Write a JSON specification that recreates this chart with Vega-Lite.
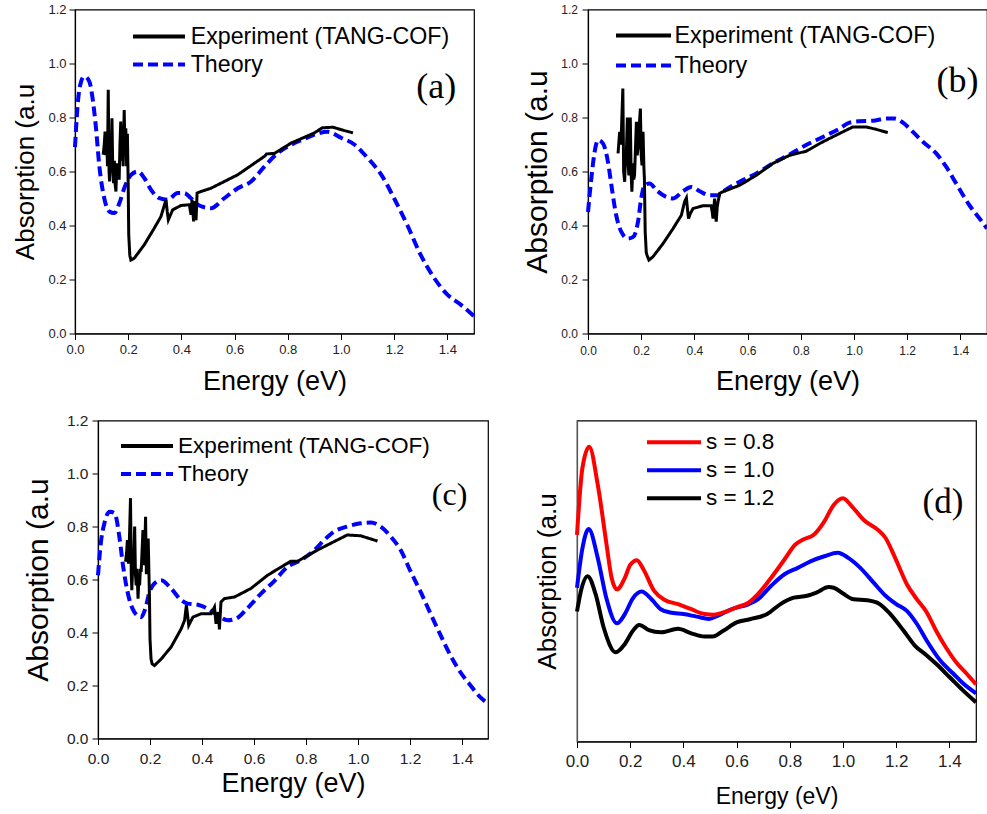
{
  "$schema": "https://vega.github.io/schema/vega-lite/v6.json",
  "background": "white",
  "padding": {"left": -27, "top": 2.5, "right": 0, "bottom": 0},
  "datasets": {
    "a_th": [
      {"E":0,"A":0.69},{"E":0.01,"A":0.847},{"E":0.023,"A":0.933},{"E":0.035,"A":0.952},{"E":0.054,"A":0.933},{"E":0.066,"A":0.872},{"E":0.079,"A":0.76},{"E":0.091,"A":0.625},{"E":0.11,"A":0.501},{"E":0.129,"A":0.452},{"E":0.148,"A":0.446},{"E":0.167,"A":0.483},{"E":0.185,"A":0.538},{"E":0.211,"A":0.588},{"E":0.236,"A":0.6},{"E":0.261,"A":0.575},{"E":0.286,"A":0.532},{"E":0.317,"A":0.501},{"E":0.348,"A":0.495},{"E":0.386,"A":0.52},{"E":0.411,"A":0.52},{"E":0.436,"A":0.501},{"E":0.467,"A":0.474},{"E":0.511,"A":0.464},{"E":0.561,"A":0.501},{"E":0.612,"A":0.538},{"E":0.662,"A":0.563},{"E":0.712,"A":0.618},{"E":0.762,"A":0.668},{"E":0.812,"A":0.699},{"E":0.86,"A":0.72},{"E":0.9,"A":0.737},{"E":0.95,"A":0.747},{"E":1.0,"A":0.725},{"E":1.05,"A":0.7},{"E":1.1,"A":0.65},{"E":1.15,"A":0.59},{"E":1.2,"A":0.5},{"E":1.25,"A":0.4},{"E":1.3,"A":0.29},{"E":1.35,"A":0.206},{"E":1.4,"A":0.144},{"E":1.45,"A":0.107},{"E":1.5,"A":0.064}
    ],
    "a_ex": [
      {"E":0.106,"A":0.662},{"E":0.11,"A":0.7},{"E":0.113,"A":0.748},{"E":0.116,"A":0.66},{"E":0.119,"A":0.74},{"E":0.122,"A":0.62},{"E":0.125,"A":0.903},{"E":0.128,"A":0.6},{"E":0.13,"A":0.563},{"E":0.133,"A":0.7},{"E":0.136,"A":0.62},{"E":0.139,"A":0.797},{"E":0.142,"A":0.6},{"E":0.145,"A":0.557},{"E":0.148,"A":0.64},{"E":0.151,"A":0.55},{"E":0.154,"A":0.526},{"E":0.157,"A":0.63},{"E":0.16,"A":0.58},{"E":0.163,"A":0.612},{"E":0.166,"A":0.57},{"E":0.169,"A":0.7},{"E":0.172,"A":0.785},{"E":0.175,"A":0.64},{"E":0.178,"A":0.73},{"E":0.181,"A":0.62},{"E":0.185,"A":0.828},{"E":0.188,"A":0.66},{"E":0.191,"A":0.76},{"E":0.194,"A":0.62},{"E":0.197,"A":0.74},{"E":0.2,"A":0.55},{"E":0.202,"A":0.366},{"E":0.206,"A":0.29},{"E":0.21,"A":0.272},{"E":0.223,"A":0.279},{"E":0.26,"A":0.328},{"E":0.298,"A":0.39},{"E":0.323,"A":0.433},{"E":0.342,"A":0.495},{"E":0.347,"A":0.45},{"E":0.351,"A":0.421},{"E":0.367,"A":0.458},{"E":0.398,"A":0.474},{"E":0.43,"A":0.477},{"E":0.436,"A":0.44},{"E":0.44,"A":0.495},{"E":0.446,"A":0.415},{"E":0.451,"A":0.49},{"E":0.455,"A":0.42},{"E":0.459,"A":0.52},{"E":0.474,"A":0.526},{"E":0.511,"A":0.538},{"E":0.612,"A":0.588},{"E":0.712,"A":0.656},{"E":0.72,"A":0.665},{"E":0.75,"A":0.667},{"E":0.812,"A":0.705},{"E":0.9,"A":0.743},{"E":0.93,"A":0.762},{"E":0.97,"A":0.764},{"E":1.0,"A":0.755},{"E":1.045,"A":0.743}
    ],
    "b_th": [
      {"E":0,"A":0.45},{"E":0.0125,"A":0.574},{"E":0.025,"A":0.673},{"E":0.038,"A":0.716},{"E":0.056,"A":0.704},{"E":0.075,"A":0.636},{"E":0.088,"A":0.549},{"E":0.106,"A":0.438},{"E":0.125,"A":0.377},{"E":0.15,"A":0.352},{"E":0.17,"A":0.358},{"E":0.188,"A":0.414},{"E":0.2,"A":0.5},{"E":0.213,"A":0.549},{"E":0.232,"A":0.556},{"E":0.257,"A":0.531},{"E":0.294,"A":0.506},{"E":0.32,"A":0.5},{"E":0.357,"A":0.527},{"E":0.388,"A":0.543},{"E":0.42,"A":0.527},{"E":0.457,"A":0.512},{"E":0.489,"A":0.512},{"E":0.507,"A":0.525},{"E":0.57,"A":0.562},{"E":0.633,"A":0.593},{"E":0.695,"A":0.63},{"E":0.758,"A":0.663},{"E":0.82,"A":0.698},{"E":0.883,"A":0.728},{"E":0.946,"A":0.759},{"E":0.983,"A":0.781},{"E":1.02,"A":0.786},{"E":1.071,"A":0.788},{"E":1.121,"A":0.796},{"E":1.152,"A":0.796},{"E":1.184,"A":0.781},{"E":1.221,"A":0.747},{"E":1.259,"A":0.71},{"E":1.309,"A":0.667},{"E":1.347,"A":0.617},{"E":1.384,"A":0.556},{"E":1.434,"A":0.475},{"E":1.472,"A":0.426},{"E":1.5,"A":0.389}
    ],
    "b_ex": [
      {"E":0.113,"A":0.667},{"E":0.117,"A":0.72},{"E":0.119,"A":0.747},{"E":0.123,"A":0.7},{"E":0.126,"A":0.76},{"E":0.131,"A":0.907},{"E":0.134,"A":0.6},{"E":0.138,"A":0.562},{"E":0.141,"A":0.68},{"E":0.144,"A":0.66},{"E":0.148,"A":0.8},{"E":0.151,"A":0.62},{"E":0.154,"A":0.586},{"E":0.157,"A":0.72},{"E":0.159,"A":0.8},{"E":0.162,"A":0.6},{"E":0.165,"A":0.525},{"E":0.169,"A":0.63},{"E":0.172,"A":0.57},{"E":0.175,"A":0.586},{"E":0.179,"A":0.7},{"E":0.182,"A":0.784},{"E":0.185,"A":0.66},{"E":0.188,"A":0.685},{"E":0.192,"A":0.76},{"E":0.197,"A":0.833},{"E":0.2,"A":0.66},{"E":0.203,"A":0.623},{"E":0.207,"A":0.747},{"E":0.21,"A":0.62},{"E":0.212,"A":0.574},{"E":0.215,"A":0.377},{"E":0.219,"A":0.3},{"E":0.222,"A":0.29},{"E":0.229,"A":0.272},{"E":0.244,"A":0.284},{"E":0.282,"A":0.333},{"E":0.32,"A":0.389},{"E":0.351,"A":0.438},{"E":0.363,"A":0.488},{"E":0.37,"A":0.502},{"E":0.374,"A":0.46},{"E":0.378,"A":0.426},{"E":0.385,"A":0.445},{"E":0.395,"A":0.463},{"E":0.432,"A":0.473},{"E":0.463,"A":0.473},{"E":0.467,"A":0.45},{"E":0.47,"A":0.426},{"E":0.476,"A":0.5},{"E":0.48,"A":0.44},{"E":0.482,"A":0.414},{"E":0.486,"A":0.47},{"E":0.489,"A":0.488},{"E":0.495,"A":0.519},{"E":0.507,"A":0.525},{"E":0.57,"A":0.549},{"E":0.633,"A":0.586},{"E":0.695,"A":0.63},{"E":0.758,"A":0.66},{"E":0.82,"A":0.675},{"E":0.883,"A":0.71},{"E":0.946,"A":0.741},{"E":0.996,"A":0.765},{"E":1.046,"A":0.765},{"E":1.084,"A":0.756},{"E":1.127,"A":0.744}
    ],
    "c_th": [
      {"E":0,"A":0.616},{"E":0.01,"A":0.73},{"E":0.026,"A":0.818},{"E":0.045,"A":0.856},{"E":0.064,"A":0.85},{"E":0.083,"A":0.755},{"E":0.096,"A":0.654},{"E":0.115,"A":0.547},{"E":0.14,"A":0.477},{"E":0.166,"A":0.458},{"E":0.182,"A":0.49},{"E":0.198,"A":0.553},{"E":0.217,"A":0.585},{"E":0.243,"A":0.597},{"E":0.281,"A":0.566},{"E":0.32,"A":0.522},{"E":0.345,"A":0.509},{"E":0.384,"A":0.505},{"E":0.422,"A":0.49},{"E":0.46,"A":0.465},{"E":0.499,"A":0.446},{"E":0.531,"A":0.452},{"E":0.576,"A":0.493},{"E":0.627,"A":0.547},{"E":0.678,"A":0.594},{"E":0.729,"A":0.648},{"E":0.78,"A":0.673},{"E":0.832,"A":0.711},{"E":0.87,"A":0.749},{"E":0.908,"A":0.781},{"E":0.959,"A":0.8},{"E":1.01,"A":0.812},{"E":1.049,"A":0.815},{"E":1.087,"A":0.8},{"E":1.126,"A":0.762},{"E":1.164,"A":0.711},{"E":1.203,"A":0.629},{"E":1.241,"A":0.553},{"E":1.279,"A":0.471},{"E":1.318,"A":0.389},{"E":1.356,"A":0.313},{"E":1.394,"A":0.25},{"E":1.433,"A":0.2},{"E":1.471,"A":0.155},{"E":1.5,"A":0.132}
    ],
    "c_ex": [
      {"E":0.106,"A":0.667},{"E":0.11,"A":0.7},{"E":0.113,"A":0.749},{"E":0.117,"A":0.66},{"E":0.12,"A":0.72},{"E":0.125,"A":0.907},{"E":0.128,"A":0.62},{"E":0.13,"A":0.56},{"E":0.134,"A":0.66},{"E":0.137,"A":0.654},{"E":0.141,"A":0.8},{"E":0.144,"A":0.62},{"E":0.147,"A":0.578},{"E":0.15,"A":0.64},{"E":0.154,"A":0.528},{"E":0.157,"A":0.6},{"E":0.16,"A":0.578},{"E":0.163,"A":0.64},{"E":0.166,"A":0.629},{"E":0.17,"A":0.72},{"E":0.173,"A":0.787},{"E":0.177,"A":0.654},{"E":0.18,"A":0.72},{"E":0.183,"A":0.837},{"E":0.186,"A":0.62},{"E":0.188,"A":0.654},{"E":0.191,"A":0.74},{"E":0.193,"A":0.755},{"E":0.196,"A":0.62},{"E":0.198,"A":0.528},{"E":0.2,"A":0.376},{"E":0.204,"A":0.3},{"E":0.208,"A":0.282},{"E":0.217,"A":0.275},{"E":0.243,"A":0.3},{"E":0.281,"A":0.345},{"E":0.32,"A":0.414},{"E":0.333,"A":0.446},{"E":0.34,"A":0.503},{"E":0.344,"A":0.47},{"E":0.349,"A":0.427},{"E":0.365,"A":0.458},{"E":0.397,"A":0.471},{"E":0.435,"A":0.471},{"E":0.448,"A":0.496},{"E":0.454,"A":0.433},{"E":0.458,"A":0.46},{"E":0.463,"A":0.477},{"E":0.467,"A":0.412},{"E":0.473,"A":0.515},{"E":0.486,"A":0.528},{"E":0.525,"A":0.534},{"E":0.588,"A":0.566},{"E":0.652,"A":0.616},{"E":0.716,"A":0.654},{"E":0.742,"A":0.669},{"E":0.768,"A":0.669},{"E":0.844,"A":0.711},{"E":0.908,"A":0.743},{"E":0.959,"A":0.768},{"E":1.01,"A":0.765},{"E":1.075,"A":0.745}
    ],
    "d_08": [
      {"E":0,"A":0.644},{"E":0.02,"A":0.85},{"E":0.046,"A":0.918},{"E":0.078,"A":0.8},{"E":0.11,"A":0.62},{"E":0.13,"A":0.51},{"E":0.15,"A":0.474},{"E":0.18,"A":0.51},{"E":0.2,"A":0.55},{"E":0.225,"A":0.565},{"E":0.25,"A":0.536},{"E":0.29,"A":0.469},{"E":0.33,"A":0.441},{"E":0.38,"A":0.428},{"E":0.43,"A":0.412},{"E":0.48,"A":0.397},{"E":0.515,"A":0.395},{"E":0.55,"A":0.402},{"E":0.6,"A":0.418},{"E":0.646,"A":0.433},{"E":0.68,"A":0.459},{"E":0.73,"A":0.51},{"E":0.78,"A":0.567},{"E":0.82,"A":0.613},{"E":0.85,"A":0.629},{"E":0.89,"A":0.644},{"E":0.93,"A":0.686},{"E":0.965,"A":0.737},{"E":1.0,"A":0.758},{"E":1.034,"A":0.732},{"E":1.078,"A":0.69},{"E":1.13,"A":0.66},{"E":1.16,"A":0.634},{"E":1.196,"A":0.572},{"E":1.24,"A":0.49},{"E":1.278,"A":0.443},{"E":1.315,"A":0.402},{"E":1.35,"A":0.345},{"E":1.39,"A":0.289},{"E":1.43,"A":0.242},{"E":1.465,"A":0.211},{"E":1.5,"A":0.178}
    ],
    "d_10": [
      {"E":0,"A":0.479},{"E":0.02,"A":0.6},{"E":0.044,"A":0.662},{"E":0.078,"A":0.572},{"E":0.11,"A":0.448},{"E":0.15,"A":0.368},{"E":0.18,"A":0.397},{"E":0.21,"A":0.446},{"E":0.243,"A":0.467},{"E":0.28,"A":0.443},{"E":0.315,"A":0.412},{"E":0.35,"A":0.402},{"E":0.4,"A":0.397},{"E":0.45,"A":0.389},{"E":0.496,"A":0.382},{"E":0.53,"A":0.392},{"E":0.58,"A":0.412},{"E":0.646,"A":0.428},{"E":0.68,"A":0.443},{"E":0.73,"A":0.485},{"E":0.78,"A":0.521},{"E":0.83,"A":0.541},{"E":0.88,"A":0.562},{"E":0.93,"A":0.577},{"E":0.98,"A":0.588},{"E":1.02,"A":0.572},{"E":1.065,"A":0.541},{"E":1.115,"A":0.495},{"E":1.16,"A":0.454},{"E":1.2,"A":0.428},{"E":1.24,"A":0.407},{"E":1.278,"A":0.366},{"E":1.315,"A":0.314},{"E":1.365,"A":0.253},{"E":1.415,"A":0.211},{"E":1.45,"A":0.182},{"E":1.5,"A":0.15}
    ],
    "d_12": [
      {"E":0,"A":0.405},{"E":0.018,"A":0.48},{"E":0.04,"A":0.515},{"E":0.07,"A":0.459},{"E":0.1,"A":0.356},{"E":0.146,"A":0.278},{"E":0.18,"A":0.304},{"E":0.21,"A":0.345},{"E":0.234,"A":0.363},{"E":0.27,"A":0.347},{"E":0.315,"A":0.34},{"E":0.38,"A":0.351},{"E":0.43,"A":0.337},{"E":0.48,"A":0.327},{"E":0.51,"A":0.327},{"E":0.55,"A":0.345},{"E":0.6,"A":0.371},{"E":0.65,"A":0.381},{"E":0.715,"A":0.397},{"E":0.765,"A":0.428},{"E":0.815,"A":0.448},{"E":0.865,"A":0.454},{"E":0.9,"A":0.464},{"E":0.946,"A":0.481},{"E":0.965,"A":0.479},{"E":1.0,"A":0.461},{"E":1.04,"A":0.443},{"E":1.09,"A":0.44},{"E":1.134,"A":0.43},{"E":1.178,"A":0.397},{"E":1.228,"A":0.345},{"E":1.27,"A":0.299},{"E":1.315,"A":0.268},{"E":1.35,"A":0.242},{"E":1.4,"A":0.201},{"E":1.45,"A":0.16},{"E":1.5,"A":0.122}
    ],
    "lab_a": [{"t":"(a)"}],
    "lab_b": [{"t":"(b)"}],
    "lab_c": [{"t":"(c)"}],
    "lab_d": [{"t":"(d)"}]
  },
  "vconcat": [
    {
      "hconcat": [
        {
          "width": 1, "height": 1,
          "view": {"stroke": null, "fill": null},
          "data": {"values": []},
          "mark": "point"
        },
        {
          "width": 399, "height": 324,
          "layer": [
            {
              "data": {"name": "a_th"},
              "mark": {"type": "line", "strokeWidth": 4, "interpolate": "monotone"},
              "encoding": {
                "x": {"field": "E", "type": "quantitative", "scale": {"domain": [0, 1.5], "nice": false, "zero": false},
                  "axis": {"title": "Energy (eV)", "values": [0,0.1,0.2,0.3,0.4,0.5,0.6,0.7,0.8,0.9,1,1.1,1.2,1.3,1.4,1.5], "labelExpr": "round(datum.value*10)%2==0 ? format(datum.value,'.1f') : ''", "tickSize": {"condition": {"test": "round(datum.value*10)%2!=0", "value": 3.5}, "value": 6}, "labelFontSize": 13, "labelPadding": 4, "titleFontSize": 27, "titlePadding": 11.5}},
                "y": {"field": "A", "type": "quantitative", "scale": {"domain": [0, 1.2], "nice": false, "zero": false},
                  "axis": {"title": "Absorption (a.u", "values": [0,0.1,0.2,0.3,0.4,0.5,0.6,0.7,0.8,0.9,1,1.1,1.2], "labelExpr": "round(datum.value*10)%2==0 ? format(datum.value,'.1f') : ''", "tickSize": {"condition": {"test": "round(datum.value*10)%2!=0", "value": 3.5}, "value": 6}, "labelFontSize": 13, "labelPadding": 3, "titleFontSize": 26, "titlePadding": 9}},
                "color": {"datum": "Theory", "type": "nominal", "scale": {"domain": ["Experiment (TANG-COF)", "Theory"], "range": ["black", "#0000ff"]},
                  "legend": {"orient": "none", "legendX": 56, "legendY": 13, "title": null, "symbolType": "stroke", "symbolSize": 2704, "symbolStrokeWidth": 4, "labelFontSize": 23.2, "labelOffset": 3.7, "clipHeight": 28, "rowPadding": 0, "padding": 0, "labelLimit": 500}},
                "strokeDash": {"datum": "Theory", "type": "nominal", "scale": {"domain": ["Experiment (TANG-COF)", "Theory"], "range": [[1, 0], [10, 5]]},
                  "legend": {"orient": "none", "legendX": 56, "legendY": 13, "title": null, "symbolType": "stroke", "symbolSize": 2704, "symbolStrokeWidth": 4, "labelFontSize": 23.2, "labelOffset": 3.7, "clipHeight": 28, "rowPadding": 0, "padding": 0, "labelLimit": 500}}
              }
            },
            {
              "data": {"name": "a_ex"},
              "mark": {"type": "line", "strokeWidth": 3},
              "encoding": {
                "x": {"field": "E", "type": "quantitative"},
                "y": {"field": "A", "type": "quantitative"},
                "color": {"datum": "Experiment (TANG-COF)", "type": "nominal"},
                "strokeDash": {"datum": "Experiment (TANG-COF)", "type": "nominal"}
              }
            },
            {
              "data": {"name": "lab_a"},
              "mark": {"type": "text", "font": "Liberation Serif", "fontSize": 36, "align": "center", "baseline": "alphabetic", "color": "black"},
              "encoding": {"x": {"datum": 1.358, "type": "quantitative"}, "y": {"datum": 0.874, "type": "quantitative"}, "text": {"field": "t"}}
            }
          ]
        },
        {
          "width": 399, "height": 324,
          "layer": [
            {
              "data": {"name": "b_th"},
              "mark": {"type": "line", "strokeWidth": 4, "interpolate": "monotone"},
              "encoding": {
                "x": {"field": "E", "type": "quantitative", "scale": {"domain": [0, 1.5], "nice": false, "zero": false},
                  "axis": {"title": "Energy (eV)", "values": [0,0.1,0.2,0.3,0.4,0.5,0.6,0.7,0.8,0.9,1,1.1,1.2,1.3,1.4,1.5], "labelExpr": "round(datum.value*10)%2==0 ? format(datum.value,'.1f') : ''", "tickSize": {"condition": {"test": "round(datum.value*10)%2!=0", "value": 3.5}, "value": 6}, "labelFontSize": 12, "labelPadding": 6, "titleFontSize": 27, "titlePadding": 12}},
                "y": {"field": "A", "type": "quantitative", "scale": {"domain": [0, 1.2], "nice": false, "zero": false},
                  "axis": {"title": "Absorption (a.u", "values": [0,0.1,0.2,0.3,0.4,0.5,0.6,0.7,0.8,0.9,1,1.1,1.2], "labelExpr": "round(datum.value*10)%2==0 ? format(datum.value,'.1f') : ''", "tickSize": {"condition": {"test": "round(datum.value*10)%2!=0", "value": 3.5}, "value": 6}, "labelFontSize": 12, "labelPadding": 4.5, "titleFontSize": 30, "titlePadding": 8.8}},
                "color": {"datum": "Theory", "type": "nominal", "scale": {"domain": ["Experiment (TANG-COF)", "Theory"], "range": ["black", "#0000ff"]},
                  "legend": {"orient": "none", "legendX": 26, "legendY": 11, "title": null, "symbolType": "stroke", "symbolSize": 3025, "symbolStrokeWidth": 4, "labelFontSize": 23.4, "labelOffset": 1.5, "clipHeight": 30, "rowPadding": 0, "padding": 0, "labelLimit": 500}},
                "strokeDash": {"datum": "Theory", "type": "nominal", "scale": {"domain": ["Experiment (TANG-COF)", "Theory"], "range": [[1, 0], [10, 5]]},
                  "legend": {"orient": "none", "legendX": 26, "legendY": 11, "title": null, "symbolType": "stroke", "symbolSize": 3025, "symbolStrokeWidth": 4, "labelFontSize": 23.4, "labelOffset": 1.5, "clipHeight": 30, "rowPadding": 0, "padding": 0, "labelLimit": 500}}
              }
            },
            {
              "data": {"name": "b_ex"},
              "mark": {"type": "line", "strokeWidth": 3},
              "encoding": {
                "x": {"field": "E", "type": "quantitative"},
                "y": {"field": "A", "type": "quantitative"},
                "color": {"datum": "Experiment (TANG-COF)", "type": "nominal"},
                "strokeDash": {"datum": "Experiment (TANG-COF)", "type": "nominal"}
              }
            },
            {
              "data": {"name": "lab_b"},
              "mark": {"type": "text", "font": "Liberation Serif", "fontSize": 36, "align": "center", "baseline": "alphabetic", "color": "black"},
              "encoding": {"x": {"datum": 1.389, "type": "quantitative"}, "y": {"datum": 0.896, "type": "quantitative"}, "text": {"field": "t"}}
            }
          ]
        }
      ],
      "spacing": 38,
      "resolve": {"scale": {"x": "independent", "y": "independent", "color": "independent", "strokeDash": "independent"}, "legend": {"color": "independent", "strokeDash": "independent"}}
    },
    {
      "hconcat": [
        {
          "width": 14, "height": 1,
          "view": {"stroke": null, "fill": null},
          "data": {"values": []},
          "mark": "point"
        },
        {
          "width": 390, "height": 318,
          "layer": [
            {
              "data": {"name": "c_th"},
              "mark": {"type": "line", "strokeWidth": 4, "interpolate": "monotone"},
              "encoding": {
                "x": {"field": "E", "type": "quantitative", "scale": {"domain": [0, 1.5], "nice": false, "zero": false},
                  "axis": {"title": "Energy (eV)", "values": [0,0.1,0.2,0.3,0.4,0.5,0.6,0.7,0.8,0.9,1,1.1,1.2,1.3,1.4,1.5], "labelExpr": "round(datum.value*10)%2==0 ? format(datum.value,'.1f') : ''", "tickSize": {"condition": {"test": "round(datum.value*10)%2!=0", "value": 3.5}, "value": 6}, "labelFontSize": 15.5, "labelPadding": 6.5, "titleFontSize": 27, "titlePadding": 4}},
                "y": {"field": "A", "type": "quantitative", "scale": {"domain": [0, 1.2], "nice": false, "zero": false},
                  "axis": {"title": "Absorption (a.u", "values": [0,0.1,0.2,0.3,0.4,0.5,0.6,0.7,0.8,0.9,1,1.1,1.2], "labelExpr": "round(datum.value*10)%2==0 ? format(datum.value,'.1f') : ''", "tickSize": {"condition": {"test": "round(datum.value*10)%2!=0", "value": 3.5}, "value": 6}, "labelFontSize": 15.5, "labelPadding": 4, "titleFontSize": 30, "titlePadding": 12.5}},
                "color": {"datum": "Theory", "type": "nominal", "scale": {"domain": ["Experiment (TANG-COF)", "Theory"], "range": ["black", "#0000ff"]},
                  "legend": {"orient": "none", "legendX": 21, "legendY": 11.5, "title": null, "symbolType": "stroke", "symbolSize": 2704, "symbolStrokeWidth": 4, "labelFontSize": 22.6, "labelOffset": 3, "clipHeight": 28, "rowPadding": 0, "padding": 0, "labelLimit": 500}},
                "strokeDash": {"datum": "Theory", "type": "nominal", "scale": {"domain": ["Experiment (TANG-COF)", "Theory"], "range": [[1, 0], [10, 5]]},
                  "legend": {"orient": "none", "legendX": 21, "legendY": 11.5, "title": null, "symbolType": "stroke", "symbolSize": 2704, "symbolStrokeWidth": 4, "labelFontSize": 22.6, "labelOffset": 3, "clipHeight": 28, "rowPadding": 0, "padding": 0, "labelLimit": 500}}
              }
            },
            {
              "data": {"name": "c_ex"},
              "mark": {"type": "line", "strokeWidth": 3},
              "encoding": {
                "x": {"field": "E", "type": "quantitative"},
                "y": {"field": "A", "type": "quantitative"},
                "color": {"datum": "Experiment (TANG-COF)", "type": "nominal"},
                "strokeDash": {"datum": "Experiment (TANG-COF)", "type": "nominal"}
              }
            },
            {
              "data": {"name": "lab_c"},
              "mark": {"type": "text", "font": "Liberation Serif", "fontSize": 32, "align": "center", "baseline": "alphabetic", "color": "black"},
              "encoding": {"x": {"datum": 1.352, "type": "quantitative"}, "y": {"datum": 0.881, "type": "quantitative"}, "text": {"field": "t"}}
            }
          ]
        },
        {
          "width": 399, "height": 321,
          "layer": [
            {
              "data": {"name": "d_12"},
              "mark": {"type": "line", "strokeWidth": 4, "interpolate": "monotone"},
              "encoding": {
                "x": {"field": "E", "type": "quantitative", "scale": {"domain": [0, 1.5], "nice": false, "zero": false},
                  "axis": {"title": "Energy (eV)", "values": [0,0.1,0.2,0.3,0.4,0.5,0.6,0.7,0.8,0.9,1,1.1,1.2,1.3,1.4,1.5], "labelExpr": "round(datum.value*10)%2==0 ? format(datum.value,'.1f') : ''", "tickSize": {"condition": {"test": "round(datum.value*10)%2!=0", "value": 3.5}, "value": 6}, "labelFontSize": 17, "labelPadding": 5.7, "titleFontSize": 23, "titlePadding": 16.5}},
                "y": {"field": "A", "type": "quantitative", "scale": {"domain": [0, 1], "nice": false, "zero": false},
                  "axis": {"title": "Absorption (a.u", "labels": false, "ticks": false, "titleFontSize": 26, "titlePadding": 17, "domainColor": "#555"}},
                "color": {"datum": "s = 1.2", "type": "nominal", "scale": {"domain": ["s = 0.8", "s = 1.0", "s = 1.2"], "range": ["#ff0000", "#0000ff", "black"]},
                  "legend": {"orient": "none", "legendX": 68, "legendY": 8, "title": null, "symbolType": "stroke", "symbolSize": 2916, "symbolStrokeWidth": 4, "labelFontSize": 22.5, "labelOffset": 3, "clipHeight": 27.5, "rowPadding": 0, "padding": 0, "labelLimit": 500}}
              }
            },
            {
              "data": {"name": "d_10"},
              "mark": {"type": "line", "strokeWidth": 4, "interpolate": "monotone"},
              "encoding": {
                "x": {"field": "E", "type": "quantitative"},
                "y": {"field": "A", "type": "quantitative"},
                "color": {"datum": "s = 1.0", "type": "nominal"}
              }
            },
            {
              "data": {"name": "d_08"},
              "mark": {"type": "line", "strokeWidth": 4, "interpolate": "monotone"},
              "encoding": {
                "x": {"field": "E", "type": "quantitative"},
                "y": {"field": "A", "type": "quantitative"},
                "color": {"datum": "s = 0.8", "type": "nominal"}
              }
            },
            {
              "data": {"name": "lab_d"},
              "mark": {"type": "text", "font": "Liberation Serif", "fontSize": 35, "align": "center", "baseline": "alphabetic", "color": "black"},
              "encoding": {"x": {"datum": 1.376, "type": "quantitative"}, "y": {"datum": 0.713, "type": "quantitative"}, "text": {"field": "t"}}
            }
          ]
        }
      ],
      "spacing": 36,
      "resolve": {"scale": {"x": "independent", "y": "independent", "color": "independent", "strokeDash": "independent"}, "legend": {"color": "independent", "strokeDash": "independent"}}
    }
  ],
  "spacing": 17,
  "resolve": {"scale": {"x": "independent", "y": "independent", "color": "independent", "strokeDash": "independent"}, "legend": {"color": "independent", "strokeDash": "independent"}},
  "config": {
    "font": "Liberation Sans",
    "view": {"stroke": "black", "strokeWidth": 1.2},
    "axis": {"grid": false, "domainColor": "black", "domainWidth": 1.2, "tickColor": "black", "tickWidth": 1, "labelColor": "#222", "titleColor": "black", "labelFont": "Liberation Sans", "titleFont": "Liberation Sans", "titleFontWeight": "normal", "labelFlush": false, "labelOverlap": false, "labelBound": false},
    "legend": {"labelColor": "black", "labelFont": "Liberation Sans"}
  }
}
